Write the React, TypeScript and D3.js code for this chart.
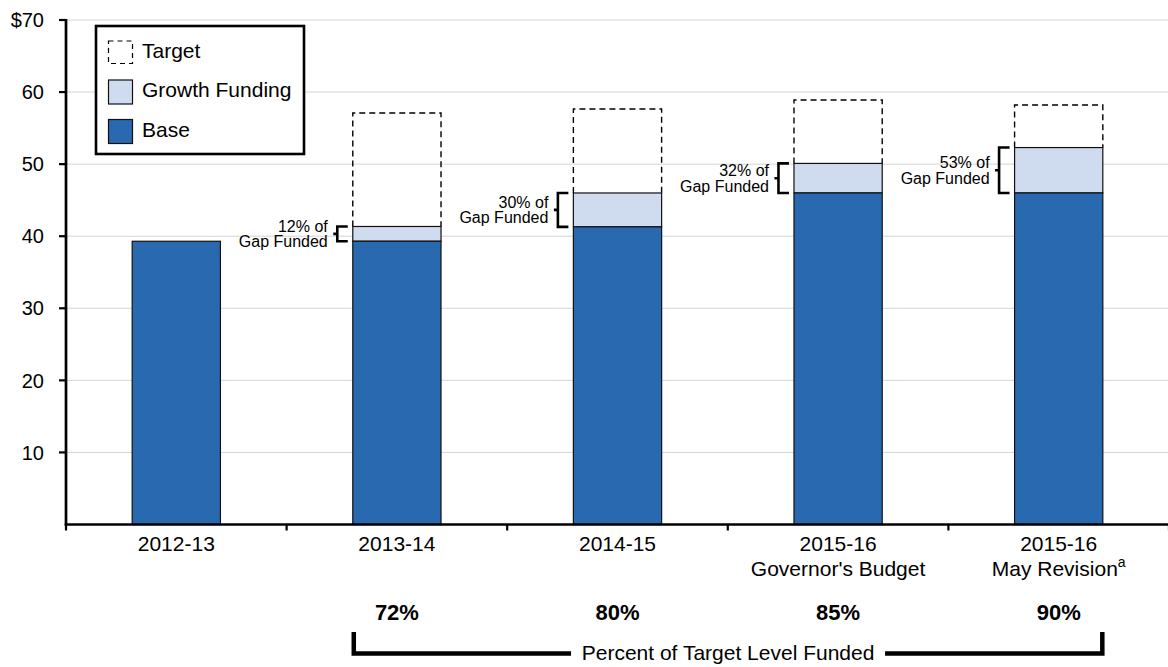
import React from "react";
import * as d3 from "d3";

const categories = ["2012-13", "2013-14", "2014-15", "2015-16", "2015-16"];
const categorySubLabels = ["", "", "", "Governor's Budget", "May Revision"];
const categoryFootnotes = ["", "", "", "", "a"];
const baseValues = [39.3, 39.3, 41.3, 46.0, 46.0];
const growthValues = [0, 2.05, 4.7, 4.1, 6.3];
const targetValues = [null, 57.1, 57.65, 58.9, 58.2];
const gapFundedLabels = ["", "12% of", "30% of", "32% of", "53% of"];
const percentFundedLabels = ["", "72%", "80%", "85%", "90%"];
const yTicks = [10, 20, 30, 40, 50, 60, 70];
const legendItems = ["Target", "Growth Funding", "Base"];

const W = 1168;
const H = 667;
const FONT = "'Liberation Sans', Arial, Helvetica, sans-serif";
const BASE_COLOR = "#2969b0";
const GROWTH_COLOR = "#cfdcf0";

export default function App() {
  const x = d3
    .scaleBand<number>()
    .domain(categories.map((_, i) => i))
    .range([66, 1169])
    .paddingInner(0.6)
    .paddingOuter(0.3);
  const y = d3.scaleLinear().domain([0, 70]).range([524.5, 20]);
  const step = x.step();
  const boundaries = d3.range(categories.length + 1).map((i) => 66 + i * step);

  const capMid = (fs: number) => 0.358 * fs;

  // bottom bracket geometry
  const firstIdx = 1;
  const lastIdx = categories.length - 1;
  const brLeft = (x(firstIdx) as number) + 1;
  const brRight = (x(lastIdx) as number) + x.bandwidth() - 0.5;
  const brTop = 632;
  const brY = 653.5;
  const brMid = (brLeft + brRight) / 2;
  const brLabel = "Percent of Target Level Funded";
  const brHalfText = 157;

  return (
    <svg
      width={W}
      height={H}
      style={{ position: "absolute", left: 0, top: 0, background: "#fff" }}
      fontFamily={FONT}
    >
      {/* gridlines */}
      {yTicks.map((t) => (
        <line key={"g" + t} x1={66} x2={W} y1={y(t)} y2={y(t)} stroke="#d4d4d4" strokeWidth={1} />
      ))}

      {/* bars */}
      {categories.map((_, i) => {
        const x0 = x(i) as number;
        const bw = x.bandwidth();
        const base = baseValues[i];
        const growth = growthValues[i];
        const target = targetValues[i];
        const yBase = y(base);
        const yGrowth = y(base + growth);
        return (
          <g key={"b" + i}>
            {target != null && (
              <path
                d={`M${x0},${yGrowth} V${y(target)} H${x0 + bw} V${yGrowth}`}
                fill="none"
                stroke="#000"
                strokeWidth={1.4}
                strokeDasharray="6,4"
              />
            )}
            {growth > 0 && (
              <rect x={x0} y={yGrowth} width={bw} height={yBase - yGrowth} fill={GROWTH_COLOR} stroke="#111" strokeWidth={1.2} />
            )}
            <rect x={x0} y={yBase} width={bw} height={y(0) - yBase} fill={BASE_COLOR} stroke="#111" strokeWidth={1.2} />
            {growth > 0 && (
              <g>
                <path
                  d={`M${x0 - 5},${yGrowth} H${x0 - 15.5} V${yBase} H${x0 - 5} M${x0 - 15.5},${(yGrowth + yBase) / 2} H${x0 - 19.5}`}
                  fill="none"
                  stroke="#000"
                  strokeWidth={2.6}
                />
                <text
                  x={x0 - 25}
                  y={(yGrowth + yBase) / 2 - 7.8 + capMid(16)}
                  fontSize={16}
                  textAnchor="end"
                  fill="#000"
                >
                  {gapFundedLabels[i]}
                </text>
                <text
                  x={x0 - 25}
                  y={(yGrowth + yBase) / 2 + 7.8 + capMid(16)}
                  fontSize={16}
                  textAnchor="end"
                  fill="#000"
                >
                  Gap Funded
                </text>
              </g>
            )}
          </g>
        );
      })}

      {/* y axis */}
      <line x1={66} x2={66} y1={19} y2={525.5} stroke="#000" strokeWidth={2.7} />
      {yTicks.map((t) => (
        <g key={"t" + t}>
          <line x1={59} x2={66} y1={y(t)} y2={y(t)} stroke="#000" strokeWidth={2.2} />
          <text x={44} y={y(t) + capMid(20)} fontSize={20} textAnchor="end" fill="#000">
            {t === 70 ? "$" + t : t}
          </text>
        </g>
      ))}

      {/* x axis */}
      <line x1={64.7} x2={W} y1={y(0)} y2={y(0)} stroke="#000" strokeWidth={2.7} />
      {boundaries.map((bx, i) => (
        <line key={"xt" + i} x1={bx} x2={bx} y1={y(0)} y2={y(0) + 6} stroke="#000" strokeWidth={2.2} />
      ))}
      {categories.map((c, i) => {
        const cx = (x(i) as number) + x.bandwidth() / 2;
        return (
          <g key={"l" + i}>
            <text x={cx} y={543.5 + capMid(21)} fontSize={21} textAnchor="middle" fill="#000">
              {c}
            </text>
            {categorySubLabels[i] && (
              <text x={cx} y={568.3 + capMid(21)} fontSize={21} textAnchor="middle" fill="#000">
                {categorySubLabels[i]}
                {categoryFootnotes[i] && (
                  <tspan fontSize={14} dy={-9}>
                    {categoryFootnotes[i]}
                  </tspan>
                )}
              </text>
            )}
            {percentFundedLabels[i] && (
              <text
                x={cx}
                y={611.7 + capMid(22)}
                fontSize={22}
                fontWeight="bold"
                textAnchor="middle"
                fill="#000"
              >
                {percentFundedLabels[i]}
              </text>
            )}
          </g>
        );
      })}

      {/* bottom bracket */}
      <path
        d={`M${brLeft},${brTop} V${brY} H${brMid - brHalfText} M${brMid + brHalfText},${brY} H${brRight} V${brTop}`}
        fill="none"
        stroke="#000"
        strokeWidth={4.5}
      />
      <text x={brMid} y={652.3 + capMid(21)} fontSize={21} textAnchor="middle" fill="#000">
        {brLabel}
      </text>

      {/* legend */}
      <rect x={96} y={26} width={208} height={128} fill="#fff" stroke="#000" strokeWidth={2.6} />
      {legendItems.map((item, i) => {
        const sy = [41, 80, 119.5][i];
        return (
          <g key={"lg" + i}>
            {i === 0 ? (
              <rect x={108.5} y={sy} width={24} height={22.5} fill="none" stroke="#000" strokeWidth={1.2} strokeDasharray="5,4" />
            ) : (
              <rect
                x={108.5}
                y={sy}
                width={24}
                height={24}
                fill={i === 1 ? GROWTH_COLOR : BASE_COLOR}
                stroke="#111"
                strokeWidth={1.2}
              />
            )}
            <text x={142} y={sy + 11.5 + capMid(21) - 2} fontSize={21} fill="#000">
              {item}
            </text>
          </g>
        );
      })}
    </svg>
  );
}
